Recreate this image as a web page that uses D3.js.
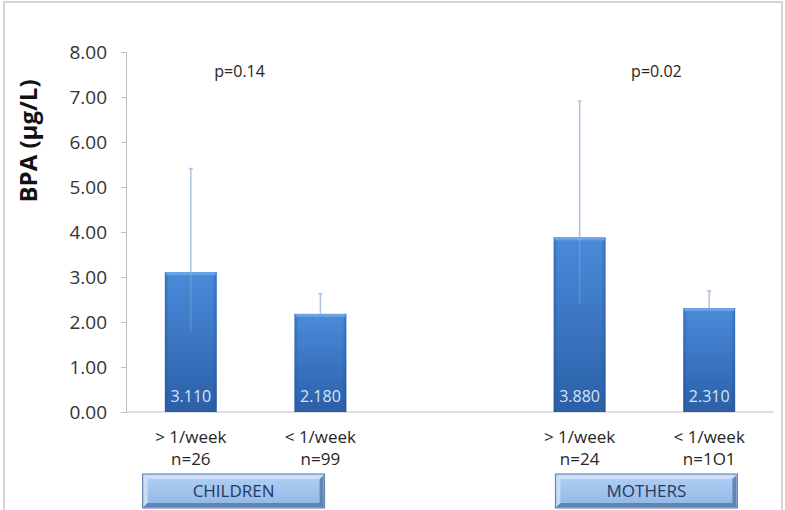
<!DOCTYPE html>
<html>
<head>
<meta charset="utf-8">
<script src="https://cdn.jsdelivr.net/npm/d3@7"></script>
<style>
  body { margin: 0; background: #fff; }
  svg { display: block; font-family: "Open Sans", sans-serif; }
</style>
</head>
<body>
<div id="chart"></div>
<script>
// categories (one empty slot between the two groups)
let categories = ["c1", "c2", "gap", "m1", "m2"];
let freqLabels = ["> 1/week", "< 1/week", "", "> 1/week", "< 1/week"];
let nLabels = ["n=26", "n=99", "", "n=24", "n=1O1"];
let means = [3.110, 2.180, null, 3.880, 2.310];
let errTops = [5.41, 2.63, null, 6.91, 2.69];
let errBottoms = [1.80, 2.18, null, 2.40, 2.31];
let yTicks = [0, 1, 2, 3, 4, 5, 6, 7, 8];
let groups = [{ name: "CHILDREN", cats: ["c1", "c2"] }, { name: "MOTHERS", cats: ["m1", "m2"] }];
let pValues = ["p=0.14", "p=0.02"];

let width = 785, height = 510;
let margin = { top: 52, left: 126, right: 11, bottom: 98 };

let svg = d3.select("#chart").append("svg")
    .attr("width", width)
    .attr("height", height);

let defs = svg.append("defs");
let barGrad = defs.append("linearGradient").attr("id", "barGrad")
    .attr("x1", 0).attr("y1", 0).attr("x2", 0).attr("y2", 1);
barGrad.append("stop").attr("offset", "0%").attr("stop-color", "#4a8bda");
barGrad.append("stop").attr("offset", "100%").attr("stop-color", "#2b5fa8");

let sideGrad = defs.append("linearGradient").attr("id", "sideGrad")
    .attr("x1", 0).attr("y1", 0).attr("x2", 1).attr("y2", 0);
sideGrad.append("stop").attr("offset", "0%").attr("stop-color", "#1f4f92").attr("stop-opacity", 0.45);
sideGrad.append("stop").attr("offset", "8%").attr("stop-color", "#1f4f92").attr("stop-opacity", 0);
sideGrad.append("stop").attr("offset", "92%").attr("stop-color", "#1f4f92").attr("stop-opacity", 0);
sideGrad.append("stop").attr("offset", "100%").attr("stop-color", "#1f4f92").attr("stop-opacity", 0.45);

let boxGrad = defs.append("linearGradient").attr("id", "boxGrad")
    .attr("x1", 0).attr("y1", 0).attr("x2", 0).attr("y2", 1);
boxGrad.append("stop").attr("offset", "0%").attr("stop-color", "#b3d0f3");
boxGrad.append("stop").attr("offset", "100%").attr("stop-color", "#8fb6e8");

// outer frame
svg.append("rect")
    .attr("x", 4).attr("y", 2)
    .attr("width", 778).attr("height", 520)
    .attr("fill", "none")
    .attr("stroke", "#d4d4d4")
    .attr("stroke-width", 2);

let x = d3.scaleBand()
    .domain(categories)
    .range([margin.left, width - margin.right])
    .paddingInner(0.6)
    .paddingOuter(0.3);

let y = d3.scaleLinear()
    .domain([0, 8])
    .range([height - margin.bottom, margin.top]);

// y axis
let yAxis = svg.append("g")
    .attr("transform", `translate(${margin.left},0)`)
    .call(d3.axisLeft(y).tickValues(yTicks).tickFormat(d3.format(".2f")).tickSize(5).tickPadding(14));
yAxis.selectAll("path, line").attr("stroke", "#bfbfbf");
yAxis.selectAll("text")
    .attr("fill", "#333")
    .attr("dy", "0.36em")
    .style("font-size", "19px")
    .style("font-family", "'Open Sans', sans-serif");

// x axis baseline
svg.append("line")
    .attr("x1", margin.left).attr("x2", width - margin.right)
    .attr("y1", y(0)).attr("y2", y(0))
    .attr("stroke", "#bfbfbf");

// axis title
svg.append("text")
    .attr("transform", `translate(37,${(y(8) + y(0)) / 2 - 91}) rotate(-90)`)
    .attr("text-anchor", "middle")
    .attr("font-size", "24px")
    .attr("font-weight", "bold")
    .attr("fill", "#111")
    .text("BPA (µg/L)");

let data = categories.map((c, i) => ({
    cat: c, mean: means[i], top: errTops[i], bottom: errBottoms[i],
    freq: freqLabels[i], n: nLabels[i]
})).filter(d => d.mean !== null);

let bw = x.bandwidth();

let bars = svg.append("g");
bars.selectAll("rect.bar")
    .data(data)
    .enter()
    .append("rect")
    .attr("class", "bar")
    .attr("x", d => x(d.cat))
    .attr("y", d => y(d.mean))
    .attr("width", bw)
    .attr("height", d => y(0) - y(d.mean))
    .attr("fill", "url(#barGrad)");
bars.selectAll("rect.side")
    .data(data)
    .enter()
    .append("rect")
    .attr("class", "side")
    .attr("x", d => x(d.cat))
    .attr("y", d => y(d.mean))
    .attr("width", bw)
    .attr("height", d => y(0) - y(d.mean))
    .attr("fill", "url(#sideGrad)");
bars.selectAll("rect.hi")
    .data(data)
    .enter()
    .append("rect")
    .attr("class", "hi")
    .attr("x", d => x(d.cat) + 1)
    .attr("y", d => y(d.mean))
    .attr("width", bw - 2)
    .attr("height", 3)
    .attr("fill", "#6aa3e6");

// error bars, lower part faintly seen through the bar
let err = svg.append("g");
err.selectAll("line.up")
    .data(data)
    .enter()
    .append("line")
    .attr("x1", d => x(d.cat) + bw / 2)
    .attr("x2", d => x(d.cat) + bw / 2)
    .attr("y1", d => y(d.mean))
    .attr("y2", d => y(d.top))
    .attr("stroke", "#a9c3e0")
    .attr("stroke-width", 1.5);
err.selectAll("line.down")
    .data(data)
    .enter()
    .append("line")
    .attr("x1", d => x(d.cat) + bw / 2)
    .attr("x2", d => x(d.cat) + bw / 2)
    .attr("y1", d => y(d.mean))
    .attr("y2", d => y(d.bottom))
    .attr("stroke", "#a9c3e0")
    .attr("stroke-opacity", 0.3)
    .attr("stroke-width", 1.5);
err.selectAll("line.cap")
    .data(data)
    .enter()
    .append("line")
    .attr("x1", d => x(d.cat) + bw / 2 - 2)
    .attr("x2", d => x(d.cat) + bw / 2 + 2)
    .attr("y1", d => y(d.top))
    .attr("y2", d => y(d.top))
    .attr("stroke", "#a9c3e0")
    .attr("stroke-width", 1.5);

// value labels inside bars
svg.selectAll("text.val")
    .data(data)
    .enter()
    .append("text")
    .attr("class", "val")
    .attr("x", d => x(d.cat) + bw / 2)
    .attr("y", y(0) - 10)
    .attr("text-anchor", "middle")
    .attr("font-size", "16px")
    .attr("fill", "#d6e4f5")
    .text(d => d.mean.toFixed(3));

// category labels
svg.selectAll("text.freq")
    .data(data)
    .enter()
    .append("text")
    .attr("x", d => x(d.cat) + bw / 2)
    .attr("y", y(0) + 31)
    .attr("text-anchor", "middle")
    .attr("font-size", "17px")
    .attr("fill", "#262626")
    .text(d => d.freq);
svg.selectAll("text.n")
    .data(data)
    .enter()
    .append("text")
    .attr("x", d => x(d.cat) + bw / 2)
    .attr("y", y(0) + 53)
    .attr("text-anchor", "middle")
    .attr("font-size", "17px")
    .attr("fill", "#262626")
    .text(d => d.n);

let groupCenter = g => (x(g.cats[0]) + x(g.cats[1]) + bw) / 2;

// p-values
let pShift = [-16, 12];
svg.selectAll("text.p")
    .data(pValues)
    .enter()
    .append("text")
    .attr("x", (d, i) => groupCenter(groups[i]) + pShift[i])
    .attr("y", y(7.5) + 2)
    .attr("text-anchor", "middle")
    .attr("font-size", "16px")
    .attr("fill", "#262626")
    .text(d => d);

// group boxes
let boxShift = [-22, 2];
let box = svg.selectAll("g.box")
    .data(groups)
    .enter()
    .append("g")
    .attr("transform", (d, i) => `translate(${groupCenter(d) + boxShift[i] - 91},${y(0) + 62})`);
box.append("rect")
    .attr("width", 182).attr("height", 34)
    .attr("fill", "url(#boxGrad)")
    .attr("stroke", "#5a7ea8")
    .attr("stroke-width", 1);
box.append("path")
    .attr("d", "M1,1 H181 L177,5 H5 V29 L1,33 Z")
    .attr("fill", "#d3e4f8")
    .attr("opacity", 0.8);
box.append("path")
    .attr("d", "M181,1 V33 H1 L5,29 H177 V5 Z")
    .attr("fill", "#4e73a3")
    .attr("opacity", 0.75);
box.append("text")
    .attr("x", 91).attr("y", 23)
    .attr("text-anchor", "middle")
    .attr("font-size", "17px")
    .attr("fill", "#1f3a60")
    .text(d => d.name);
</script>
</body>
</html>
